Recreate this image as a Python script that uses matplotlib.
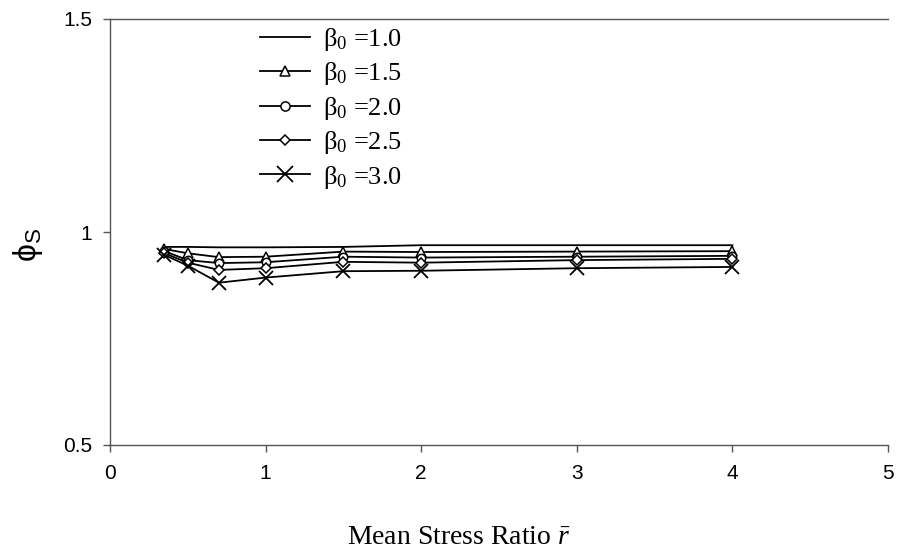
import matplotlib
matplotlib.use("Agg")
import matplotlib.pyplot as plt

x_vals = [0.35, 0.5, 0.7, 1.0, 1.5, 2.0, 3.0, 4.0]
beta_10 = [0.965, 0.965, 0.964, 0.964, 0.965, 0.969, 0.969, 0.969]
beta_15 = [0.960, 0.950, 0.941, 0.942, 0.954, 0.953, 0.954, 0.955]
beta_20 = [0.955, 0.934, 0.927, 0.929, 0.942, 0.940, 0.942, 0.944]
beta_25 = [0.950, 0.928, 0.911, 0.915, 0.930, 0.928, 0.934, 0.937]
beta_30 = [0.946, 0.921, 0.881, 0.893, 0.908, 0.909, 0.915, 0.918]
labels = ["1.0", "1.5", "2.0", "2.5", "3.0"]
x_ticks = [0, 1, 2, 3, 4, 5]
y_ticks = [0.5, 1, 1.5]
y_ticklabels = ["0.5", "1", "1.5"]

plt.rcParams['mathtext.fontset'] = 'custom'
plt.rcParams['mathtext.rm'] = 'Liberation Serif'
plt.rcParams['mathtext.it'] = 'Liberation Serif:italic'

fig = plt.figure(figsize=(9.11, 5.54), dpi=100)
ax = fig.add_axes([110/911, 1-445/554, (888-110)/911, (445-19)/554])

series = [beta_10, beta_15, beta_20, beta_25, beta_30]
styles = [
    dict(marker=None),
    dict(marker='^', markersize=6.5, markerfacecolor='white', markeredgewidth=1.1),
    dict(marker='o', markersize=6.0, markerfacecolor='white', markeredgewidth=1.1),
    dict(marker='D', markersize=4.8, markerfacecolor='white', markeredgewidth=1.1),
    dict(marker='x', markersize=10, markeredgewidth=1.3),
]
for ys, lab, st in zip(series, labels, styles):
    ax.plot(x_vals, ys, color='black', linewidth=1.3, markeredgecolor='black',
            label=r'β$_\mathregular{0}$ =' + lab, **st)

ax.set_xlim(0, 5)
ax.set_ylim(0.5, 1.5)
ax.set_xticks(x_ticks)
ax.set_xticklabels([str(t) for t in x_ticks])
ax.set_yticks(y_ticks)
ax.set_yticklabels(y_ticklabels)
ax.spines['right'].set_visible(False)
for s in ['left', 'bottom', 'top']:
    ax.spines[s].set_color('#555555')
    ax.spines[s].set_linewidth(1.0)
ax.tick_params(axis='both', direction='out', length=5, width=1.0, color='#555555',
               labelsize=15)
ax.tick_params(axis='x', pad=9)
ax.tick_params(axis='y', pad=8)
for lbl in ax.get_xticklabels() + ax.get_yticklabels():
    lbl.set_fontfamily('Liberation Sans')

fig.text(28/911, 1-245/554, r'$\mathregular{ϕ_S}$', rotation=90, fontsize=23,
         family='Liberation Sans', ha='center', va='center')
fig.text(459/911, 1-537/554, r'Mean Stress Ratio $\bar{\mathit{r}}$', fontsize=20,
         family='Liberation Serif', ha='center', va='center')

leg = ax.legend(loc='upper left', bbox_to_anchor=(260/911, 1-26/554),
                bbox_transform=fig.transFigure, frameon=False,
                prop={'family': 'Liberation Serif', 'size': 19},
                handlelength=1.9, handletextpad=0.5, labelspacing=0.28,
                borderaxespad=0, borderpad=0, markerscale=1.1)

fig.savefig('out.png', dpi=100)
